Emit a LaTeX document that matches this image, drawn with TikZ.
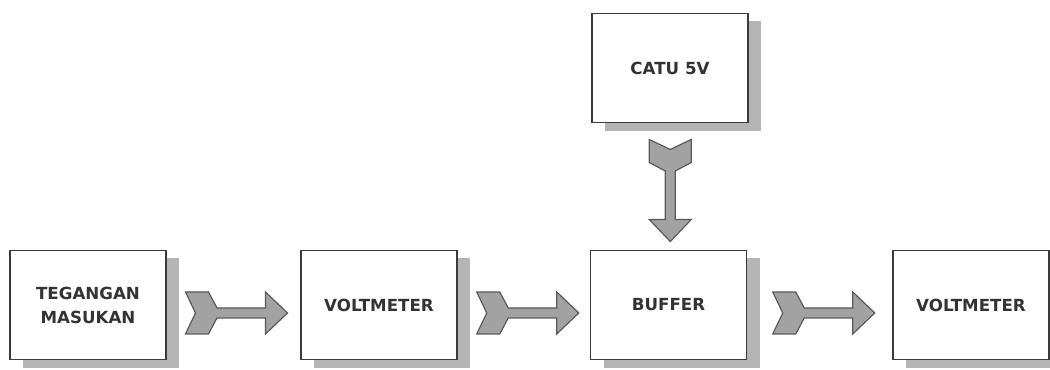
\documentclass[tikz,border=0pt]{standalone}
\usepackage{fontspec}
\setmainfont{DejaVu Sans}
\usetikzlibrary{calc,shadows}
\definecolor{boxline}{HTML}{3A3A3A}
\definecolor{shade}{HTML}{B4B4B4}
\definecolor{arrowfill}{HTML}{A2A2A2}
\definecolor{arrowline}{HTML}{5A5A5A}
\tikzset{
  blok/.style={draw=boxline,line width=1.2pt,fill=white,minimum width=117pt,minimum height=82pt,
    align=center,text=black!80,font=\bfseries\fontsize{12.5}{18}\selectfont,
    drop shadow={shadow xshift=9.75pt,shadow yshift=-6pt,fill=shade,opacity=1}},
  panah/.pic={\filldraw[fill=arrowfill,draw=arrowline,line width=0.9pt,line join=miter]
    (-51,21)--(-28,21)--(-19.5,5)--(29,5)--(29,21)--(51,0)--(29,-21)--(29,-5)--(-19.5,-5)--(-28,-21)--(-51,-21)--(-41,0)--cycle;}
}

\begin{document}
\begin{tikzpicture}[x=0.75pt,y=0.75pt]
\useasboundingbox (0,0) rectangle (1050,370);
\node[blok] (masukan) at (88,65) {TEGANGAN\\MASUKAN};
\node[blok] (volt1) at (379,65) {VOLTMETER};
\node[blok] (buffer) at (668.5,65) {BUFFER};
\node[blok] (volt2) at (971,65) {VOLTMETER};
\node[blok] (catu) at (670,302) {CATU 5V};
\pic at ($(masukan.east)!0.5!(volt1.west)+(3,-8)$) {panah};
\pic at ($(volt1.east)!0.5!(buffer.west)+(4,-8)$) {panah};
\pic at ($(buffer.east)!0.5!(volt2.west)+(4,-8)$) {panah};
\pic[rotate=-90] at ($(catu.south)!0.5!(buffer.north)+(1,-4)$) {panah};
\end{tikzpicture}
\end{document}
